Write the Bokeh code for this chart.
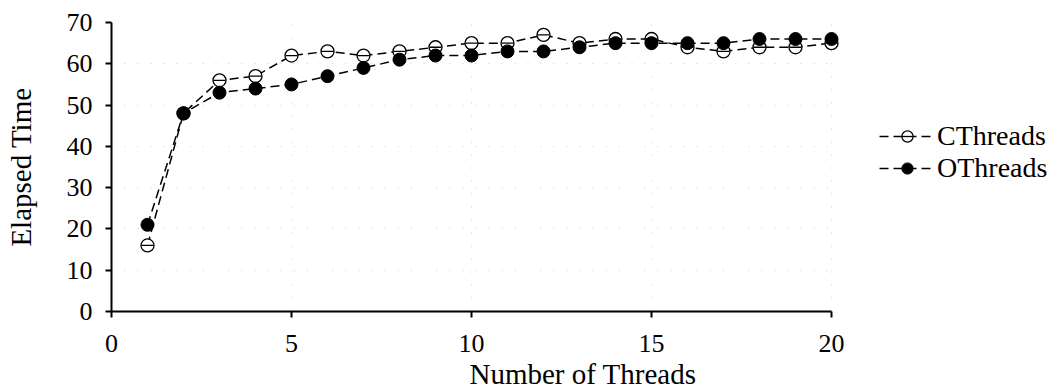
from bokeh.plotting import figure
from bokeh.models import Legend, LegendItem, Range1d, FixedTicker
from bokeh.embed import file_html
from bokeh.resources import INLINE

threads = list(range(1, 21))
cthreads = [16, 48, 56, 57, 62, 63, 62, 63, 64, 65, 65, 67, 65, 66, 66, 64, 63, 64, 64, 65]
othreads = [21, 48, 53, 54, 55, 57, 59, 61, 62, 62, 63, 63, 64, 65, 65, 65, 65, 66, 66, 66]
x_ticks = [0, 5, 10, 15, 20]
y_ticks = [0, 10, 20, 30, 40, 50, 60, 70]

FONT = "Liberation Serif"

# plot area spans 720 px for 0..20; frame extended to the right to host the key
W, H, LEFT, TOP, BOTTOM = 1054, 392, 111, 22, 81
XMAX = 20
frame_w = W - LEFT
x_end = XMAX * frame_w / 720.0

p = figure(width=W, height=H, output_backend="svg", toolbar_location=None,
           x_range=Range1d(0, x_end), y_range=Range1d(0, 70),
           min_border_left=LEFT, min_border_top=TOP, min_border_bottom=BOTTOM, min_border_right=0)
p.outline_line_color = None
p.background_fill_color = "white"

for ax in (p.xaxis[0], p.yaxis[0]):
    ax.axis_line_width = 2
    ax.axis_line_color = "black"
    ax.major_tick_line_width = 2
    ax.major_tick_out = 6
    ax.major_tick_in = 0
    ax.minor_tick_line_color = None
    ax.major_label_text_font = FONT
    ax.major_label_text_font_size = "26px"
    ax.major_label_text_color = "black"
    ax.axis_label_text_font = FONT
    ax.axis_label_text_font_size = "29px"
    ax.axis_label_text_font_style = "normal"
    ax.axis_label_text_color = "black"

p.xaxis.ticker = FixedTicker(ticks=x_ticks)
p.yaxis.ticker = FixedTicker(ticks=y_ticks)
p.xaxis.bounds = (0, XMAX)
p.xaxis.axis_label = "Number of Threads"
p.yaxis.axis_label = "Elapsed Time"
p.xaxis.major_label_standoff = 17
p.yaxis.major_label_standoff = 13
p.xaxis.axis_label_standoff = 3
p.yaxis.axis_label_standoff = 27

for g in (p.xgrid[0], p.ygrid[0]):
    g.grid_line_color = "#cfcfcf"
    g.grid_line_dash = "1 12"
    g.grid_line_width = 1
p.ygrid[0].cross_bounds = (0, XMAX)

lc = p.line(threads, cthreads, line_color="black", line_width=1.5, line_dash="9 5")
lo = p.line(threads, othreads, line_color="black", line_width=1.5, line_dash="9 5")
mc = p.scatter(threads, cthreads, marker="circle", size=13, fill_color="white",
               line_color="black", line_width=1.3)
md = p.scatter(threads, cthreads, marker="dash", size=12, line_color="black", line_width=1.3)
mo = p.scatter(threads, othreads, marker="circle", size=13, fill_color="black",
               line_color="black")

legend = Legend(items=[LegendItem(label="CThreads", renderers=[lc, mc, md]),
                       LegendItem(label="OThreads", renderers=[lo, mo])],
                location=(768, 127), orientation="vertical")
legend.border_line_color = None
legend.background_fill_alpha = 0
legend.label_text_font = FONT
legend.label_text_font_size = "28px"
legend.label_text_color = "black"
legend.glyph_width = 56
legend.glyph_height = 28
legend.label_height = 28
legend.label_standoff = 2
legend.spacing = 0
legend.padding = 0
legend.margin = 0
p.add_layout(legend, "center")

open("out.html", "w").write(file_html(p, INLINE))
